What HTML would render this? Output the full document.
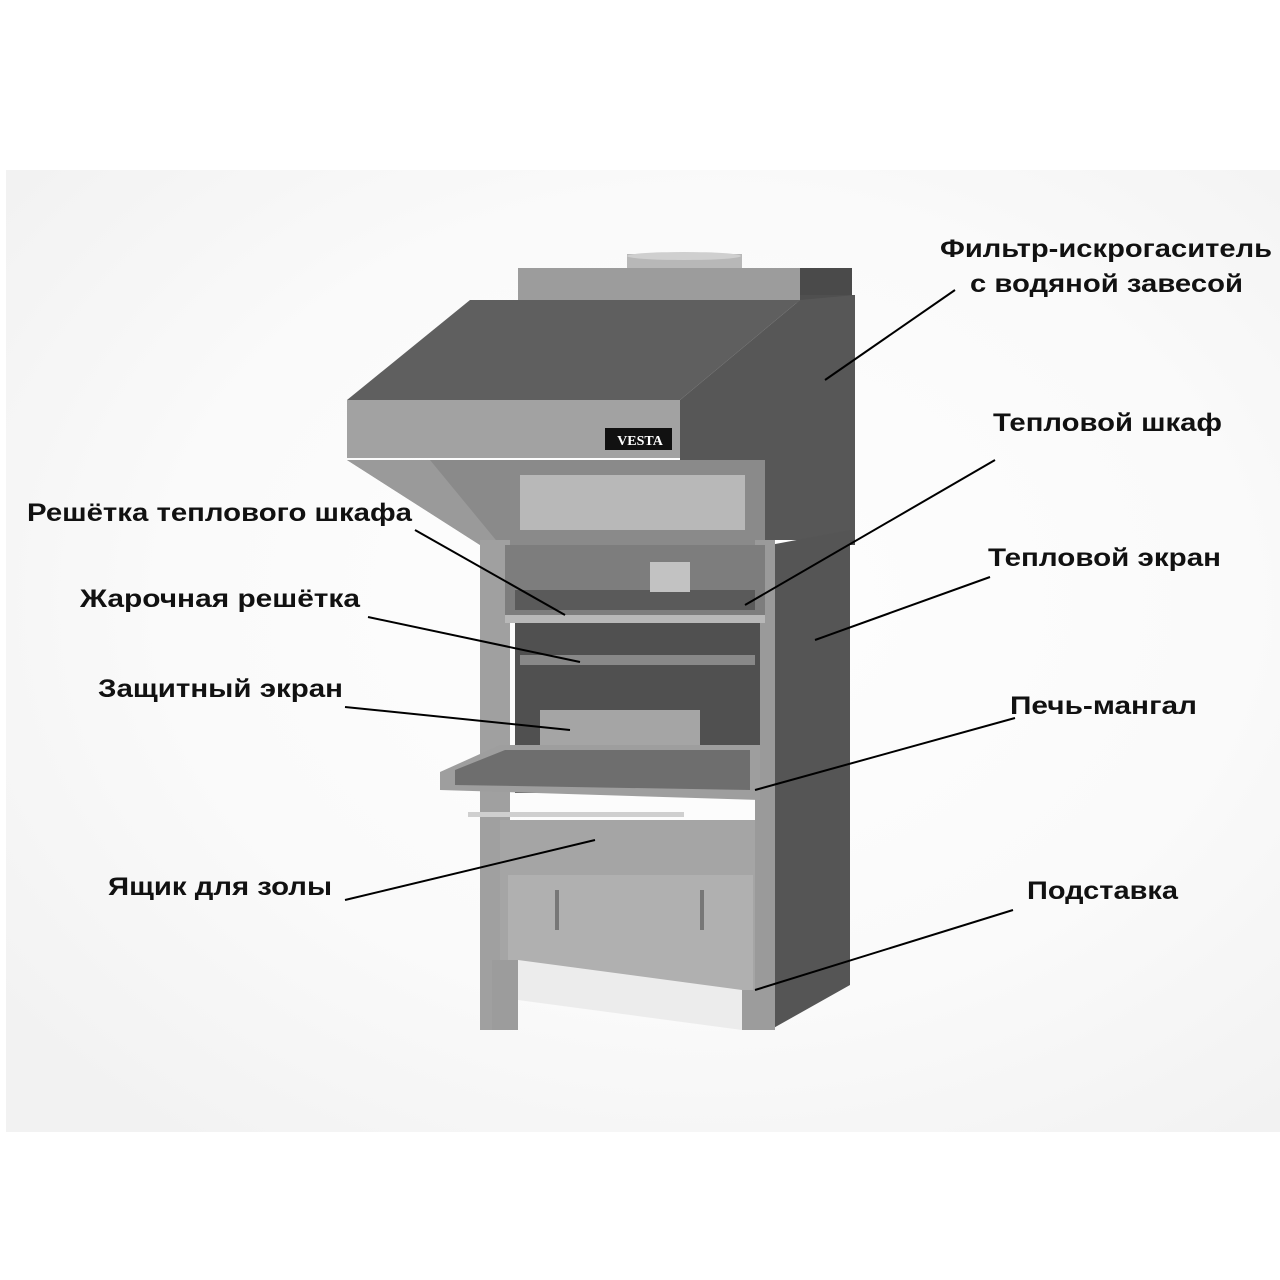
<!DOCTYPE html>
<html><head><meta charset="utf-8"><style>
html,body{margin:0;padding:0;background:#fff;}
svg{display:block}
text{font-family:"Liberation Sans",sans-serif;font-weight:bold;font-size:25px;fill:#111}
</style></head><body>
<svg width="1280" height="1280" viewBox="0 0 1280 1280">
<defs>
<radialGradient id="bg" cx="0.55" cy="0.45" r="0.7">
<stop offset="0" stop-color="#fefefe"/><stop offset="0.6" stop-color="#fafafa"/><stop offset="1" stop-color="#f2f2f2"/>
</radialGradient>
</defs>
<rect width="1280" height="1280" fill="#fff"/>
<rect x="6" y="170" width="1274" height="962" fill="url(#bg)"/>
<!-- chimney -->
<rect x="627" y="254" width="115" height="18" fill="#b8b8b8"/>
<ellipse cx="684" cy="256" rx="57" ry="4" fill="#cfcfcf"/>
<!-- filter box -->
<rect x="518" y="268" width="290" height="35" fill="#9c9c9c"/>
<rect x="800" y="268" width="52" height="35" fill="#4a4a4a"/>
<rect x="800" y="295" width="55" height="250" fill="#4f4f4f"/>
<!-- hood right dark side -->
<polygon points="680,400 800,300 855,295 855,540 680,540" fill="#575757"/>
<!-- hood underside -->
<polygon points="347,460 680,460 700,545 480,545" fill="#8a8a8a"/>
<polygon points="347,460 430,460 500,545 480,545" fill="#9a9a9a"/>
<!-- hood sloped top -->
<polygon points="470,300 800,300 680,400 347,400" fill="#5f5f5f"/>
<!-- hood front strip -->
<rect x="347" y="400" width="333" height="58" fill="#a2a2a2"/>
<rect x="605" y="428" width="67" height="22" fill="#111"/>
<text x="640" y="445" text-anchor="middle" style="font-size:14px;fill:#fff;font-family:'Liberation Serif',serif">VESTA</text>
<!-- warming cabinet interior -->
<rect x="505" y="460" width="260" height="85" fill="#8a8a8a"/>
<rect x="520" y="475" width="225" height="55" fill="#b8b8b8"/>
<!-- right side of body -->
<polygon points="770,545 850,530 850,985 770,1030" fill="#555"/>
<!-- body columns -->
<rect x="480" y="540" width="30" height="490" fill="#a0a0a0"/>
<rect x="755" y="540" width="20" height="490" fill="#9a9a9a"/>
<rect x="505" y="545" width="260" height="70" fill="#7d7d7d"/>
<rect x="515" y="590" width="240" height="20" fill="#5a5a5a"/>
<rect x="650" y="562" width="40" height="30" fill="#c2c2c2"/>
<rect x="505" y="615" width="260" height="8" fill="#b8b8b8"/>
<!-- oven -->
<rect x="515" y="623" width="245" height="170" fill="#505050"/>
<rect x="520" y="655" width="235" height="10" fill="#888"/>
<rect x="540" y="710" width="160" height="50" fill="#a5a5a5"/>
<!-- tray -->
<polygon points="440,772 500,745 760,745 760,800 440,790" fill="#9e9e9e"/>
<polygon points="455,770 505,750 750,750 750,790 455,785" fill="#6e6e6e"/>
<!-- handle -->
<rect x="468" y="812" width="216" height="5" fill="#cfcfcf"/>
<!-- ash box -->
<rect x="500" y="820" width="255" height="180" fill="#a5a5a5"/>
<rect x="508" y="875" width="245" height="115" fill="#b0b0b0"/>
<rect x="555" y="890" width="4" height="40" fill="#777"/>
<rect x="700" y="890" width="4" height="40" fill="#777"/>
<polygon points="518,960 742,990 742,1030 518,1000" fill="#ececec"/>
<rect x="492" y="960" width="26" height="70" fill="#9c9c9c"/>
<rect x="742" y="990" width="33" height="40" fill="#9c9c9c"/>
<!-- lines -->
<g stroke="#000" stroke-width="2">
<line x1="955" y1="290" x2="825" y2="380"/>
<line x1="995" y1="460" x2="745" y2="605"/>
<line x1="990" y1="577" x2="815" y2="640"/>
<line x1="1015" y1="718" x2="755" y2="790"/>
<line x1="1013" y1="910" x2="755" y2="990"/>
<line x1="415" y1="530" x2="565" y2="615"/>
<line x1="368" y1="617" x2="580" y2="662"/>
<line x1="345" y1="707" x2="570" y2="730"/>
<line x1="345" y1="900" x2="595" y2="840"/>
</g>
<!-- labels -->
<text x="940" y="257" textLength="332" lengthAdjust="spacingAndGlyphs">Фильтр-искрогаситель</text>
<text x="970" y="292" textLength="273" lengthAdjust="spacingAndGlyphs">с водяной завесой</text>
<text x="993" y="431" textLength="229" lengthAdjust="spacingAndGlyphs">Тепловой шкаф</text>
<text x="988" y="566" textLength="233" lengthAdjust="spacingAndGlyphs">Тепловой экран</text>
<text x="1010" y="714" textLength="187" lengthAdjust="spacingAndGlyphs">Печь-мангал</text>
<text x="1027" y="899" textLength="151" lengthAdjust="spacingAndGlyphs">Подставка</text>
<text x="27" y="521" textLength="385" lengthAdjust="spacingAndGlyphs">Решётка теплового шкафа</text>
<text x="80" y="607" textLength="280" lengthAdjust="spacingAndGlyphs">Жарочная решётка</text>
<text x="98" y="697" textLength="245" lengthAdjust="spacingAndGlyphs">Защитный экран</text>
<text x="108" y="895" textLength="224" lengthAdjust="spacingAndGlyphs">Ящик для золы</text>
</svg>
</body></html>
